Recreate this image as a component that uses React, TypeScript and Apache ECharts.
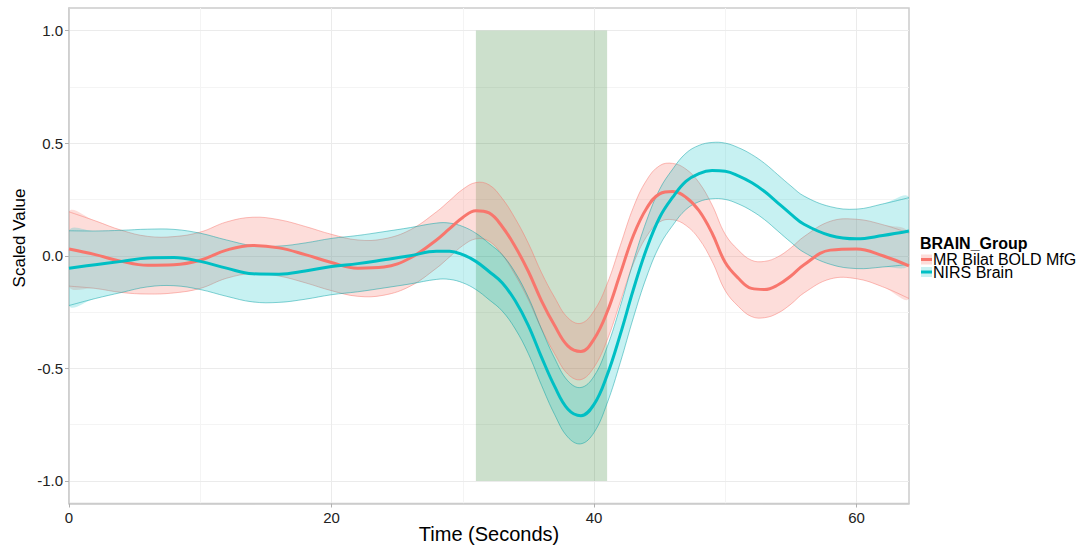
import React, { useEffect, useRef } from "react";
import * as echarts from "echarts";

// ---- data ----
const TIME = [0, 2, 4, 6, 8, 10, 12, 14, 16, 18, 20, 22, 24, 26, 28, 29, 30, 31, 32, 33, 34, 35, 36, 37, 38, 39, 40, 41, 42, 43, 44, 45, 46, 47, 48, 49, 50, 51, 52, 53, 54, 55, 56, 58, 60, 62, 64];

const MR_MEAN = [0.03, 0.005, -0.025, -0.042, -0.04, -0.02, 0.025, 0.046, 0.035, 0.005, -0.03, -0.055, -0.05, -0.01, 0.07, 0.12, 0.17, 0.2, 0.19, 0.13, 0.04, -0.07, -0.2, -0.31, -0.4, -0.425, -0.37, -0.25, -0.08, 0.09, 0.21, 0.275, 0.285, 0.26, 0.2, 0.1, -0.03, -0.1, -0.145, -0.15, -0.13, -0.09, -0.04, 0.025, 0.03, 0.0, -0.045];
const MR_LOW = [-0.135, -0.145, -0.163, -0.17, -0.165, -0.145, -0.1, -0.079, -0.09, -0.12, -0.155, -0.18, -0.175, -0.135, -0.055, -0.005, 0.045, 0.075, 0.065, 0.005, -0.085, -0.195, -0.325, -0.435, -0.525, -0.55, -0.495, -0.375, -0.205, -0.035, 0.085, 0.15, 0.16, 0.135, 0.075, -0.025, -0.155, -0.225, -0.27, -0.275, -0.255, -0.215, -0.165, -0.103, -0.102, -0.138, -0.19];
const MR_HIGH = [0.195, 0.155, 0.113, 0.086, 0.085, 0.105, 0.15, 0.171, 0.16, 0.13, 0.095, 0.07, 0.075, 0.115, 0.195, 0.245, 0.295, 0.325, 0.315, 0.255, 0.165, 0.055, -0.075, -0.185, -0.275, -0.3, -0.245, -0.125, 0.045, 0.215, 0.335, 0.4, 0.41, 0.385, 0.325, 0.225, 0.095, 0.025, -0.02, -0.025, -0.005, 0.035, 0.085, 0.153, 0.162, 0.138, 0.1];

const NIRS_MEAN = [-0.055, -0.04, -0.025, -0.01, -0.008, -0.025, -0.055, -0.08, -0.082, -0.068, -0.048, -0.035, -0.018, 0.0, 0.02, 0.02, 0.005, -0.025, -0.07, -0.12, -0.2, -0.31, -0.45, -0.58, -0.68, -0.71, -0.66, -0.53, -0.35, -0.15, 0.03, 0.17, 0.26, 0.33, 0.365, 0.378, 0.375, 0.355, 0.325, 0.285, 0.235, 0.185, 0.14, 0.09, 0.075, 0.09, 0.11];
const NIRS_LOW = [-0.221, -0.19, -0.163, -0.138, -0.133, -0.15, -0.18, -0.205, -0.207, -0.193, -0.173, -0.16, -0.143, -0.125, -0.105, -0.105, -0.12, -0.15, -0.195, -0.245, -0.325, -0.435, -0.575, -0.705, -0.805, -0.835, -0.785, -0.655, -0.475, -0.275, -0.095, 0.045, 0.135, 0.205, 0.24, 0.253, 0.25, 0.23, 0.2, 0.16, 0.11, 0.06, 0.015, -0.038, -0.057, -0.05, -0.038];
const NIRS_HIGH = [0.111, 0.11, 0.113, 0.118, 0.117, 0.1, 0.07, 0.045, 0.043, 0.057, 0.077, 0.09, 0.107, 0.125, 0.145, 0.145, 0.13, 0.1, 0.055, 0.005, -0.075, -0.185, -0.325, -0.455, -0.555, -0.585, -0.535, -0.405, -0.225, -0.025, 0.155, 0.295, 0.385, 0.455, 0.49, 0.503, 0.5, 0.48, 0.45, 0.41, 0.36, 0.31, 0.265, 0.218, 0.207, 0.23, 0.258];

const STIMULUS_X = [31, 41];
const STIMULUS_Y = [-1, 1];

const X_TICKS = [0, 20, 40, 60];
const X_MINOR = [10, 30, 50];
const Y_TICKS = [-1, -0.5, 0, 0.5, 1];
const Y_MINOR = [-0.75, -0.25, 0.25, 0.75];

const X_TITLE = "Time (Seconds)";
const Y_TITLE = "Scaled Value";
const LEGEND_TITLE = "BRAIN_Group";
const GROUPS = ["MR Bilat BOLD MfG", "NIRS Brain"];
const COLORS = ["#F8766D", "#00BFC4"];
const BAND_FILL = ["rgba(248,118,109,0.25)", "rgba(0,191,196,0.22)"];
const BAND_EDGE = ["rgba(248,118,109,0.6)", "rgba(0,160,165,0.6)"];

const FONT = "'Liberation Sans', Arial, sans-serif";
const SMOOTH = 0.4;

function pairs(ys: number[]) {
  return TIME.map((t, i) => [t, ys[i]]);
}

function bandSeries(idx: number, lo: number[], hi: number[], extra: any = {}) {
  return {
    type: "custom",
    name: "band" + idx,
    silent: true,
    clip: true,
    z: 2,
    data: [[TIME[0], lo[0]]],
    encode: { x: 0, y: 1 },
    renderItem: (_params: any, api: any) => {
      const up = TIME.map((t, i) => api.coord([t, hi[i]]));
      const dn = TIME.map((t, i) => api.coord([t, lo[i]]));
      const poly = up.concat(dn.slice().reverse());
      return {
        type: "group",
        children: [
          {
            type: "polygon",
            shape: { points: poly, smooth: SMOOTH },
            style: { fill: BAND_FILL[idx], stroke: "none" },
          },
          {
            type: "polyline",
            shape: { points: up, smooth: SMOOTH },
            style: { fill: "none", stroke: BAND_EDGE[idx], lineWidth: 0.8 },
          },
          {
            type: "polyline",
            shape: { points: dn, smooth: SMOOTH },
            style: { fill: "none", stroke: BAND_EDGE[idx], lineWidth: 0.8 },
          },
        ],
      };
    },
    ...extra,
  };
}

function legendGraphic() {
  const x0 = 920;
  const rowY = [259.5, 272];
  const children: any[] = [
    {
      type: "text",
      x: x0,
      y: 243.5,
      style: {
        text: LEGEND_TITLE,
        fontFamily: FONT,
        fontSize: 16,
        fontWeight: "bold",
        fill: "#000",
        align: "left",
        verticalAlign: "middle",
        lineHeight: 14,
      },
    },
  ];
  GROUPS.forEach((g, i) => {
    children.push({
      type: "rect",
      shape: { x: x0 + 1, y: rowY[i] - 5, width: 11, height: 10 },
      style: { fill: BAND_FILL[i], stroke: "none" },
    });
    children.push({
      type: "line",
      shape: { x1: x0 + 1, y1: rowY[i], x2: x0 + 12, y2: rowY[i] },
      style: { stroke: COLORS[i], lineWidth: 3 },
    });
    children.push({
      type: "text",
      x: x0 + 13,
      y: rowY[i],
      style: {
        text: g,
        fontFamily: FONT,
        fontSize: 16,
        fill: "#000",
        align: "left",
        verticalAlign: "middle",
        lineHeight: 11,
      },
    });
  });
  return { type: "group", silent: true, children };
}

export default function App() {
  const ref = useRef<HTMLDivElement>(null);

  useEffect(() => {
    if (!ref.current) return;
    const chart = echarts.init(ref.current, undefined, { renderer: "svg" });

    const majorLines = [
      ...X_TICKS.map((v) => ({ xAxis: v })),
      ...Y_TICKS.map((v) => ({ yAxis: v })),
    ];
    const minorLines = [
      ...X_MINOR.map((v) => ({ xAxis: v })),
      ...Y_MINOR.map((v) => ({ yAxis: v })),
    ];

    const option: any = {
      animation: false,
      backgroundColor: "#ffffff",
      textStyle: { fontFamily: FONT },
      grid: {
        left: 69,
        right: 1087 - 909,
        top: 8,
        bottom: 547 - 503.5,
        containLabel: false,
        outerBoundsMode: "none",
        show: true,
        borderColor: "#cccccc",
        borderWidth: 1.5,
        backgroundColor: "transparent",
      },
      xAxis: {
        type: "value",
        position: "bottom",
        min: 0,
        max: 64,
        axisLine: { show: true, onZero: false, lineStyle: { color: "#cccccc", width: 1.5 } },
        axisTick: { show: true, length: 4, customValues: X_TICKS, lineStyle: { color: "#b0b0b0" } },
        axisLabel: { customValues: X_TICKS, margin: 6, fontSize: 15, color: "#222", fontFamily: FONT },
        splitLine: { show: false },
      },
      yAxis: {
        type: "value",
        position: "left",
        min: -1.1,
        max: 1.1,
        axisLine: { show: true, onZero: false, lineStyle: { color: "#cccccc", width: 1.5 } },
        axisTick: { show: true, length: 4, customValues: Y_TICKS, lineStyle: { color: "#b0b0b0" } },
        axisLabel: {
          customValues: Y_TICKS,
          margin: 6,
          fontSize: 15,
          color: "#222",
          fontFamily: FONT,
          formatter: (v: number) => v.toFixed(1),
        },
        splitLine: { show: false },
      },
      graphic: [
        {
          type: "text",
          x: 19,
          y: 238,
          rotation: Math.PI / 2,
          style: {
            text: Y_TITLE,
            fontFamily: FONT,
            fontSize: 17,
            fill: "#000",
            align: "center",
            verticalAlign: "middle",
          },
        },
        {
          type: "text",
          x: 489,
          y: 534,
          style: {
            text: X_TITLE,
            fontFamily: FONT,
            fontSize: 20,
            fill: "#000",
            align: "center",
            verticalAlign: "middle",
            lineHeight: 20,
          },
        },
        legendGraphic(),
      ],
      series: [
        bandSeries(0, MR_LOW, MR_HIGH, {
          markLine: {
            silent: true,
            z: 0,
            symbol: "none",
            label: { show: false },
            lineStyle: { color: "#f4f4f4", width: 1, type: "solid" },
            data: minorLines,
          },
        }),
        bandSeries(1, NIRS_LOW, NIRS_HIGH, {
          markLine: {
            silent: true,
            z: 0,
            symbol: "none",
            label: { show: false },
            lineStyle: { color: "#ebebeb", width: 1, type: "solid" },
            data: majorLines,
          },
        }),
        {
          type: "line",
          name: GROUPS[0],
          data: pairs(MR_MEAN),
          smooth: SMOOTH,
          symbol: "none",
          z: 4,
          lineStyle: { color: COLORS[0], width: 3 },
          itemStyle: { color: COLORS[0] },
          markArea: {
            silent: true,
            z: 1,
            label: { show: false },
            itemStyle: { color: "rgba(0,100,0,0.2)" },
            data: [
              [
                { xAxis: STIMULUS_X[0], yAxis: STIMULUS_Y[0] },
                { xAxis: STIMULUS_X[1], yAxis: STIMULUS_Y[1] },
              ],
            ],
          },
        },
        {
          type: "line",
          name: GROUPS[1],
          data: pairs(NIRS_MEAN),
          smooth: SMOOTH,
          symbol: "none",
          z: 4,
          lineStyle: { color: COLORS[1], width: 3 },
          itemStyle: { color: COLORS[1] },
        },
      ],
    };

    chart.setOption(option);
    return () => {
      chart.dispose();
    };
  }, []);

  return (
    <div
      ref={ref}
      style={{ position: "fixed", left: 0, top: 0, width: 1087, height: 547, background: "#fff" }}
    />
  );
}
